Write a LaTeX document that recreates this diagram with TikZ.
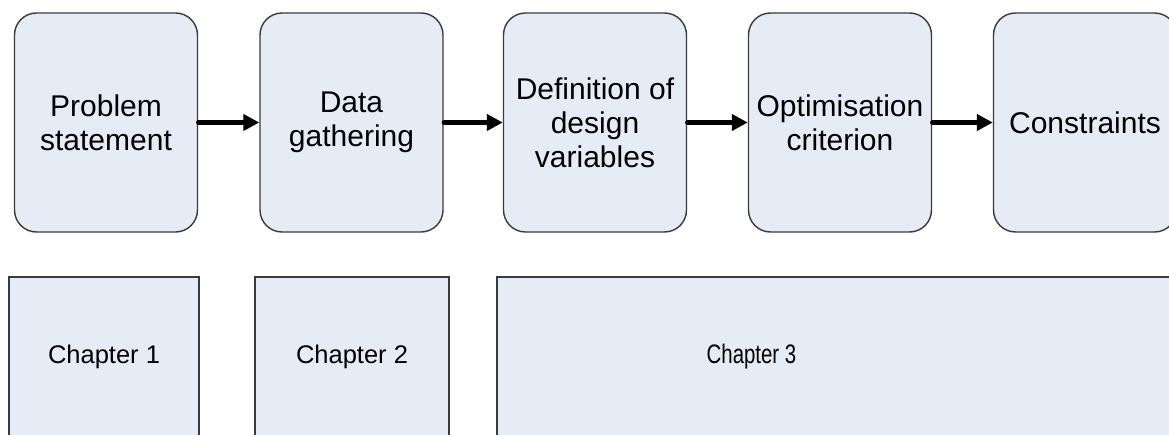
\documentclass[tikz,border=0pt]{standalone}
\usepackage{fontspec}
\setmainfont{Liberation Sans}
\usepackage{graphicx}
\usetikzlibrary{arrows.meta}
\definecolor{boxfill}{HTML}{E6ECF6}
\definecolor{boxline}{HTML}{3A3A3A}
\tikzset{
  stepbox/.style={draw=boxline, fill=boxfill, line width=1.4pt, rounded corners=22pt,
    minimum width=183pt, minimum height=219pt, inner sep=0pt, align=center,
    font=\fontsize{30}{34}\selectfont},
  chapbox/.style={draw=boxline, fill=boxfill, line width=1.4pt, inner sep=0pt,
    align=center, font=\fontsize{25.5}{30}\selectfont},
  chaptext/.style={inner sep=0pt, font=\fontsize{25.5}{30}\selectfont},
  flow/.style={line width=4.2pt, line cap=round, -{Triangle[length=16pt,width=16pt]}}
}
\begin{document}
\begin{tikzpicture}[x=1pt,y=-1pt]
\useasboundingbox (0,0) rectangle (1169,435);
\clip (0,0) rectangle (1169,435);
\fill[white] (0,0) rectangle (1169,435);
% top row
\node[stepbox] (b1) at (106,122.5) {Problem\\statement};
\node[stepbox] (b2) at (351.5,122.5) {Data\\gathering};
\node[stepbox] (b3) at (595,122.5) {Definition of\\design\\variables};
\node[stepbox] (b4) at (840,122.5) {Optimisation\\criterion};
\node[stepbox] (b5) at (1085,122.5) {Constraints};
\draw[flow] (b1.east) -- (b2.west);
\draw[flow] (b2.east) -- (b3.west);
\draw[flow] (b3.east) -- (b4.west);
\draw[flow] (b4.east) -- (b5.west);
% bottom row
\node[chapbox, minimum width=190pt, minimum height=160pt] (c1) at (104,357) {Chapter 1};
\node[chapbox, minimum width=194pt, minimum height=160pt] (c2) at (352,357) {Chapter 2};
\node[chapbox, minimum width=713pt, minimum height=180pt] (c3) at (853.5,367) {};
\node[chaptext] (c3t) at (751.5,357) {\scalebox{0.8}[1.05]{Chapter 3}};
\end{tikzpicture}
\end{document}
